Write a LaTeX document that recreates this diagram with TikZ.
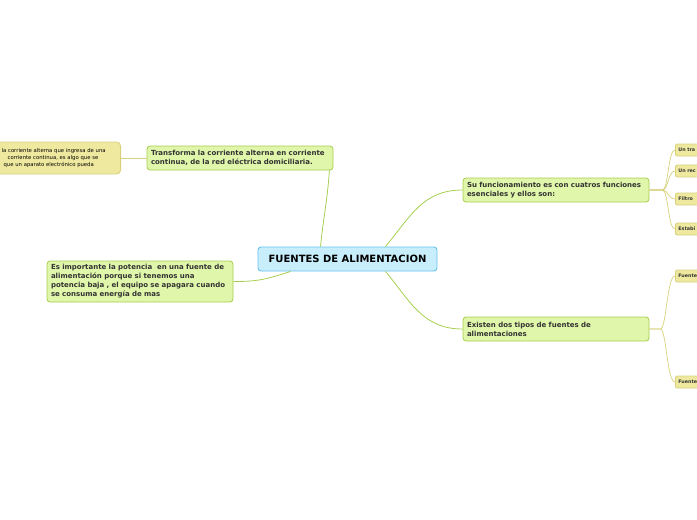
\documentclass[tikz,border=0pt]{standalone}
\usepackage{fontspec}
\setmainfont{DejaVu Sans}
\usetikzlibrary{positioning}

\definecolor{rootfill}{HTML}{C8EEFC}
\definecolor{rootline}{HTML}{67C2EB}
\definecolor{topicfill}{HTML}{E0F6AA}
\definecolor{topicline}{HTML}{A6CE50}
\definecolor{leaffill}{HTML}{EEE99F}
\definecolor{leafline}{HTML}{D7D17C}
\definecolor{textgray}{HTML}{333333}

\begin{document}
\begin{tikzpicture}[x=1pt, y=-1pt,
    root/.style={draw=rootline, fill=rootfill, line width=0.9pt, rounded corners=3pt,
      minimum width=179pt, minimum height=24pt, font=\fontsize{10}{12}\selectfont\bfseries, text=black},
    topic/.style={draw=topicline, fill=topicfill, line width=0.8pt, rounded corners=3pt,
      inner xsep=4pt, inner ysep=3pt, text width=178pt, align=left,
      font=\fontsize{7}{9}\selectfont\bfseries, text=textgray},
    leaf/.style={draw=leafline, fill=leaffill, line width=0.8pt, rounded corners=2pt,
      inner xsep=3pt, minimum height=12pt, text width=40pt, align=left, anchor=west,
      font=\fontsize{4.8}{6}\selectfont\bfseries, text=textgray},
    branch/.style={draw=topicline, line width=0.8pt},
    subbranch/.style={draw=leafline, line width=0.7pt}]

  \useasboundingbox (0,0) rectangle (697,520);

  % central topic
  \node[root] (root) at (347.5,259) {FUENTES DE ALIMENTACION};

  % main topics
  \node[topic, minimum height=24pt] (trans) at (240,158)
    {Transforma la corriente alterna en corriente\\ continua, de la red eléctrica domiciliaria.};
  \node[topic, minimum height=41pt] (imp) at (140,281.5)
    {Es importante la potencia\ \ en una fuente de\\ alimentación porque si tenemos una\\
     potencia baja , el equipo se apagara cuando\\ se consuma energía de mas};
  \node[topic, minimum height=24pt] (su) at (556,190)
    {Su funcionamiento es con cuatros funciones\\ esenciales y ellos son:};
  \node[topic, minimum height=24pt] (tipos) at (556,329)
    {Existen dos tipos de fuentes de\\ alimentaciones};

  % note left of the first topic
  \node[leaf, anchor=east, text width=130pt, minimum height=32pt, rounded corners=4pt,
    inner xsep=6pt, font=\fontsize{5.3}{7}\selectfont, text=black] (nota) at (121,158)
    {\hspace*{17pt}la corriente alterna que ingresa de una\\
     \hspace*{23pt}corriente continua, es algo que se\\
     \hspace*{19pt}que un aparato electrónico pueda};

  \draw[branch] ([xshift=-27pt]root.north) .. controls +(3,-30) and +(-2,30) .. ([xshift=-4pt]trans.south east);
  \draw[branch] ([xshift=-57pt]root.south) .. controls +(-25,8) and +(25,0) .. (imp.east);
  \draw[branch] ([xshift=38pt]root.north) .. controls +(25,-30) and +(-40,0) .. (su.west);
  \draw[branch] ([xshift=38pt]root.south) .. controls +(25,30) and +(-40,0) .. (tipos.west);
  \draw[subbranch] (nota.east) -- (trans.west);

  % functions
  \coordinate (sufork) at ([xshift=13pt]su.east);
  \foreach \name/\ypos/\txt in {tra/150/Un tra, rec/171/Un rec, fil/199/Filtro, est/229/Estabi} {
    \node[leaf] (\name) at (675,\ypos) {\txt};
    \draw[subbranch] (su.east) -- (sufork) .. controls +(6,0) and +(-7,0) .. (\name.west);
  }

  % types
  \coordinate (tipofork) at ([xshift=11pt]tipos.east);
  \foreach \name/\ypos in {fa/276, fb/382} {
    \node[leaf] (\name) at (675,\ypos) {Fuente};
    \draw[subbranch] (tipos.east) -- (tipofork) .. controls +(6,0) and +(-8,0) .. (\name.west);
  }

\end{tikzpicture}
\end{document}
